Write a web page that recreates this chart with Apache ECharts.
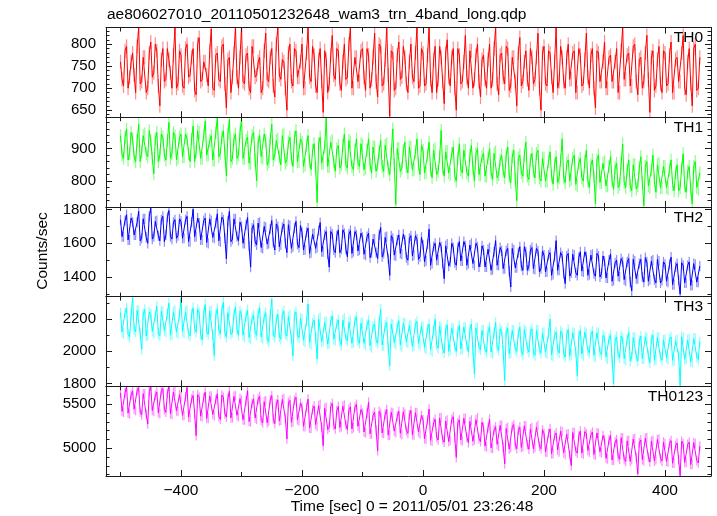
<!DOCTYPE html>
<html><head><meta charset="utf-8">
<script src="https://cdn.jsdelivr.net/npm/echarts@6/dist/echarts.min.js"></script>
<style>html,body{margin:0;padding:0;background:#fff}#c{width:717px;height:516px}</style>
</head><body><div id="c"></div>
<script>
// ---- data: count rate; "A" samples at t = -500 + 5k s,
//      "B" samples half-way between them (t = -497.5 + 5k s) ----
const sampleStart = -500;
const sampleStep = 5;

const th0A = [
 760,705,795,725,780,690,838,715,770,700,805,735,785,660,790,720,765,700,838,710,
 775,700,800,730,790,685,815,720,760,705,835,695,780,715,800,655,770,725,838,700,
 838,710,780,690,795,730,770,700,825,715,790,680,838,720,760,650,800,705,785,725,
 800,700,838,715,775,690,790,645,765,710,820,720,785,695,800,725,838,700,770,715,
 790,695,775,720,825,680,795,710,838,636,780,700,805,725,770,690,800,715,838,705,
 780,710,838,690,795,720,770,665,810,705,790,650,775,715,820,700,785,720,800,680,
 775,700,800,720,838,685,780,710,790,705,770,660,815,715,785,695,770,720,825,650,
 795,705,780,690,838,715,770,700,800,720,785,690,775,710,825,700,790,655,780,715,
 805,700,775,715,790,690,838,720,780,705,800,685,770,715,820,645,785,705,795,690,
 780,710,805,690,770,715,820,685,790,660,800,700];
const th0B = [
 720,785,700,760,730,795,710,770,690,780,725,800,705,765,715,790,735,775,700,785,
 705,790,725,770,695,800,715,760,730,785,700,775,720,795,710,765,690,780,725,770,
 715,775,700,795,725,760,690,785,720,770,705,800,730,765,700,780,715,790,725,760,
 700,780,725,795,705,765,715,785,690,775,730,790,710,760,720,800,700,770,715,785,
 725,790,700,770,715,800,705,765,730,785,695,775,720,795,710,760,725,780,700,790,
 705,775,720,765,690,795,715,780,725,770,700,790,710,760,725,785,700,775,715,765,
 720,765,700,790,710,775,725,795,695,770,715,780,705,760,720,790,710,770,700,780,
 710,785,725,760,700,795,715,770,720,780,690,790,705,765,725,775,700,785,715,760,
 700,770,715,760,690,785,720,775,705,795,715,765,700,780,720,770,695,765,710,785,
 705,775,690,765,715,780,700,760,710,790,695,770];

const th1A = [
 940,870,960,885,930,860,975,890,945,875,925,822,950,880,935,865,981,885,940,870,
 945,875,930,860,970,890,950,870,985,880,940,865,995,885,955,816,990,870,945,880,
 992,870,935,855,950,800,940,870,925,860,975,880,930,850,945,865,935,845,955,860,
 920,850,940,835,915,734,935,855,995,845,925,830,910,850,945,840,920,835,930,845,
 910,840,930,825,905,850,925,830,915,820,961,727,900,840,920,825,905,835,930,820,
 895,825,920,810,900,830,956,815,890,820,905,800,915,825,895,815,910,800,900,820,
 885,815,900,805,890,820,880,810,905,795,895,739,880,815,920,805,885,810,895,800,
 870,800,890,790,875,810,930,795,865,805,880,785,870,800,895,780,865,729,880,795,
 860,785,875,775,855,790,914,780,865,770,850,785,875,724,860,780,880,765,855,780,
 845,775,865,770,850,780,884,765,845,729,860,775];
const th1B = [
 880,935,865,950,875,925,860,940,885,955,870,930,860,945,880,925,870,950,865,935,
 875,945,885,930,860,955,870,940,880,925,865,950,875,935,885,945,860,930,870,950,
 870,925,855,940,865,920,875,945,850,930,865,925,875,940,855,920,870,935,860,930,
 845,910,860,895,840,915,855,905,845,920,860,900,840,910,850,925,845,895,855,915,
 835,895,850,905,830,890,845,910,840,885,850,900,830,895,845,905,835,890,850,910,
 825,880,835,895,820,875,840,890,825,885,815,870,835,895,825,880,840,885,820,875,
 815,870,825,885,810,865,830,880,815,875,805,870,825,880,815,865,830,885,810,870,
 800,860,815,850,795,865,810,855,800,870,790,855,810,860,800,850,815,865,795,855,
 785,845,800,840,780,855,795,835,785,850,775,840,795,845,785,835,800,850,780,845,
 780,835,790,825,770,840,785,830,775,845,780,825];

const th2A = [
 1740,1640,1770,1620,1725,1650,1790,1630,1745,1600,1808,1640,1735,1615,1760,1650,1795,1625,1740,1645,
 1730,1630,1760,1610,1802,1640,1720,1620,1750,1600,1735,1630,1775,1610,1740,1508,1790,1625,1745,1615,
 1700,1600,1753,1459,1710,1590,1725,1570,1695,1600,1735,1560,1700,1590,1715,1545,1705,1580,1730,1575,
 1665,1560,1690,1545,1660,1575,1723,1550,1670,1459,1655,1545,1680,1565,1660,1520,1675,1550,1650,1560,
 1635,1530,1660,1545,1625,1510,1694,1540,1640,1410,1630,1525,1650,1535,1620,1500,1645,1530,1625,1520,
 1590,1495,1684,1480,1600,1500,1580,1390,1595,1490,1575,1470,1610,1495,1585,1480,1600,1470,1580,1490,
 1560,1460,1575,1445,1616,1470,1555,1450,1570,1341,1560,1455,1580,1440,1550,1465,1575,1445,1555,1450,
 1530,1430,1545,1415,1616,1440,1525,1361,1540,1425,1530,1410,1550,1430,1520,1415,1535,1405,1525,1420,
 1495,1395,1537,1380,1500,1400,1490,1375,1510,1318,1495,1390,1505,1370,1490,1385,1500,1365,1495,1380,
 1475,1370,1518,1355,1480,1298,1470,1365,1490,1350,1475,1370];
const th2B = [
 1640,1735,1620,1750,1650,1725,1615,1745,1635,1760,1625,1730,1645,1740,1610,1755,1640,1725,1630,1745,
 1630,1740,1610,1725,1640,1750,1620,1735,1605,1745,1635,1720,1615,1755,1630,1730,1610,1745,1640,1725,
 1600,1710,1585,1690,1610,1720,1575,1700,1595,1685,1605,1715,1580,1695,1600,1710,1570,1690,1595,1705,
 1560,1665,1540,1655,1570,1675,1550,1650,1535,1670,1560,1645,1545,1680,1565,1655,1540,1670,1555,1660,
 1535,1640,1515,1625,1545,1650,1520,1635,1510,1645,1530,1620,1540,1655,1515,1630,1525,1645,1505,1635,
 1490,1595,1470,1580,1500,1605,1480,1585,1465,1600,1485,1575,1495,1610,1470,1590,1480,1600,1460,1585,
 1460,1565,1440,1550,1470,1575,1450,1555,1435,1570,1455,1545,1465,1580,1440,1560,1450,1570,1430,1555,
 1430,1530,1410,1520,1440,1545,1420,1525,1405,1535,1425,1515,1435,1550,1410,1530,1420,1540,1400,1525,
 1395,1500,1375,1485,1405,1510,1385,1490,1370,1505,1390,1480,1400,1515,1375,1495,1385,1505,1365,1490,
 1375,1475,1355,1460,1380,1485,1365,1470,1350,1480,1370,1465];

const th3A = [
 2240,2110,2270,2090,2334,2120,2250,2014,2260,2100,2230,2115,2280,2095,2245,2120,2300,2105,2255,2110,
 2330,2115,2255,2095,2270,2120,2240,2070,2290,2105,2250,1973,2265,2110,2305,2090,2250,2120,2275,2100,
 2230,2090,2255,2075,2225,2100,2270,2080,2240,2060,2324,2090,2230,2075,2250,2095,2225,1973,2245,2085,
 2200,2060,2293,2045,2195,1953,2210,2065,2185,2050,2220,2070,2195,2040,2205,2065,2190,2055,2215,2050,
 2175,2040,2195,2025,2170,2050,2262,2035,2180,1911,2165,2045,2190,2030,2175,2050,2160,2035,2185,2040,
 2150,2015,2170,2000,2200,2020,2145,1990,2165,2010,2140,2000,2160,2015,2150,1995,2170,1860,2145,2010,
 2130,1995,2150,1985,2179,2005,2125,1819,2145,1990,2130,2000,2150,1980,2125,1995,2140,1975,2130,1990,
 2115,1985,2200,1970,2120,1990,2110,1965,2135,1980,2115,1849,2130,1975,2110,1990,2125,1965,2115,1980,
 2085,1955,2100,1798,2090,1960,2080,1945,2118,1965,2085,1940,2095,1955,2080,1930,2100,1950,2085,1945,
 2075,1950,2090,1940,2070,1788,2085,1955,2076,1935,2080,1950];
const th3B = [
 2120,2240,2105,2225,2135,2255,2110,2230,2095,2245,2125,2220,2110,2250,2130,2235,2100,2245,2120,2225,
 2125,2245,2110,2230,2140,2260,2105,2235,2120,2250,2100,2225,2130,2255,2115,2240,2105,2230,2135,2250,
 2100,2220,2085,2205,2115,2235,2090,2215,2075,2225,2105,2200,2090,2230,2110,2215,2080,2225,2100,2205,
 2070,2185,2055,2175,2085,2200,2060,2180,2045,2190,2075,2170,2060,2195,2080,2180,2050,2190,2070,2175,
 2050,2165,2035,2155,2065,2180,2040,2160,2025,2170,2055,2150,2040,2175,2060,2160,2030,2170,2050,2155,
 2025,2140,2010,2130,2040,2155,2015,2135,2000,2145,2030,2125,2015,2150,2035,2135,2005,2145,2025,2130,
 2010,2125,1995,2115,2025,2140,2000,2120,1985,2130,2015,2110,2000,2135,2020,2120,1990,2130,2010,2115,
 1995,2110,1980,2100,2010,2125,1985,2105,1970,2115,2000,2095,1985,2120,2005,2105,1975,2115,1995,2100,
 1965,2080,1950,2070,1980,2095,1955,2075,1940,2085,1970,2065,1955,2090,1975,2075,1945,2085,1965,2070,
 1960,2075,1945,2065,1975,2090,1950,2070,1935,2080,1965,2060];

const th0123A = [
 5630,5410,5705,5390,5650,5430,5690,5380,5620,5276,5705,5420,5640,5395,5680,5410,5705,5385,5645,5420,
 5590,5370,5693,5350,5600,5144,5580,5360,5640,5340,5595,5370,5620,5330,5580,5355,5650,5345,5600,5360,
 5545,5320,5655,5300,5560,5330,5590,5290,5540,5310,5600,5280,5550,5320,5565,5106,5545,5300,5580,5310,
 5470,5245,5560,5225,5480,5250,5500,5030,5465,5240,5510,5220,5475,5245,5490,5215,5470,5235,5500,5230,
 5400,5175,5523,5160,5410,4973,5395,5170,5440,5150,5400,5180,5420,5155,5395,5170,5430,5150,5405,5165,
 5325,5100,5447,5080,5330,5095,5350,5070,5320,5090,5360,4897,5325,5085,5340,5065,5320,5095,5345,5075,
 5240,5015,5333,5000,5245,5025,5260,4822,5235,5010,5270,4995,5240,5020,5255,4990,5235,5010,5260,4995,
 5170,4955,5220,4940,5175,4960,5190,4930,5165,4803,5180,4945,5195,4935,5165,4955,5185,4925,5170,4950,
 5095,4880,5144,4865,5100,4875,5115,4850,5090,4870,5110,4708,5095,4860,5120,4845,5090,4870,5105,4855,
 5055,4845,5087,4830,5060,4689,5050,4840,5070,4820,5055,4835];
const th0123B = [
 5420,5630,5400,5610,5445,5660,5410,5620,5385,5645,5430,5600,5405,5655,5440,5625,5395,5640,5425,5610,
 5375,5585,5355,5560,5395,5610,5365,5575,5340,5595,5385,5550,5360,5605,5390,5570,5345,5590,5375,5565,
 5325,5540,5305,5515,5345,5560,5315,5530,5290,5550,5335,5505,5310,5555,5340,5520,5295,5545,5325,5515,
 5250,5465,5230,5440,5270,5485,5240,5455,5215,5475,5260,5430,5235,5480,5265,5445,5220,5470,5250,5440,
 5185,5400,5165,5375,5205,5420,5175,5390,5150,5410,5195,5365,5170,5415,5200,5380,5155,5405,5185,5375,
 5110,5320,5090,5295,5130,5345,5100,5310,5075,5330,5120,5290,5095,5340,5125,5305,5080,5325,5110,5295,
 5025,5235,5005,5210,5045,5260,5015,5225,4990,5245,5035,5205,5010,5255,5040,5220,4995,5240,5025,5210,
 4960,5170,4940,5145,4980,5195,4950,5160,4925,5180,4970,5140,4945,5190,4975,5155,4930,5175,4960,5145,
 4885,5095,4865,5070,4905,5120,4875,5085,4850,5105,4895,5065,4870,5115,4900,5080,4855,5100,4885,5070,
 4850,5055,4830,5030,4870,5080,4840,5045,4815,5065,4860,5025];

// 1-sigma error bar half-length of each band (counts/sec)
const panelErrors = [16, 20, 30, 33, 55];

const panelNames = ['TH0','TH1','TH2','TH3','TH0123'];
const panelA = [th0A, th1A, th2A, th3A, th0123A];
const panelB = [th0B, th1B, th2B, th3B, th0123B];
const panelColors = ['#ff0000','#00ff00','#0000ff','#00ffff','#ff00ff'];
const panelLightColors = ['#ff8c8c','#8cff8c','#8c8cff','#8cffff','#ff8cff'];
const yMin = [634, 720, 1284, 1783, 4685];
const yMax = [838, 997, 1816, 2340, 5705];
const yMajorTicks = [[650,700,750,800],[800,900],[1400,1600,1800],[1800,2000,2200],[5000,5500]];
const yMinorTicks = [
 [640,660,670,680,690,710,720,730,740,760,770,780,790,810,820,830],
 [720,740,760,780,820,840,860,880,920,940,960,980],
 [1300,1500,1700],
 [1900,2100,2300],
 [4700,4800,4900,5100,5200,5300,5400,5600,5700]];
const xMajorTicks = [-400,-200,0,200,400];
const xMinorTicks = [-500,-300,-100,100,300];
const xMin = -524, xMax = 476;
const titleText = 'ae806027010_20110501232648_wam3_trn_4band_long.qdp';
const xTitle = 'Time [sec] 0 = 2011/05/01 23:26:48';
const yTitle = 'Counts/sec';

// ---- layout ----
const FONT = '"Liberation Sans", Arial, Helvetica, sans-serif';
const gridLeft = 106, gridWidth = 605;
const panelTops = [27.5, 117.2, 206.9, 296.6, 386.3];
const panelH = 89.7;
const frameColor = '#1a1a1a';

const grids = [], xAxes = [], yAxes = [], series = [], graphics = [];
const minusFmt = v => String(v).replace('-', '\u2212');
const plainFmt = v => String(v);
let badLen = [];

panelNames.forEach((name, p) => {
  grids.push({left: gridLeft, width: gridWidth, top: panelTops[p], height: panelH});
  const xBase = {type: 'value', gridIndex: p, min: xMin, max: xMax, splitLine: {show: false}, z: 5};
  const isLast = p === panelNames.length - 1;
  xAxes.push(Object.assign({}, xBase, {
    position: 'bottom',
    axisLine: {show: true, onZero: false, lineStyle: {color: frameColor, width: 1}},
    axisTick: {show: true, inside: true, length: 6, customValues: xMajorTicks, lineStyle: {color: frameColor}},
    axisLabel: {show: isLast, customValues: xMajorTicks, formatter: minusFmt, color: '#000',
      fontFamily: FONT, fontSize: 15.5, margin: 7}
  }));
  xAxes.push(Object.assign({}, xBase, {
    position: 'top',
    axisLine: {show: true, onZero: false, lineStyle: {color: frameColor, width: 1}},
    axisTick: {show: true, inside: true, length: 6, customValues: xMajorTicks, lineStyle: {color: frameColor}},
    axisLabel: {show: false}
  }));
  xAxes.push(Object.assign({}, xBase, {
    position: 'bottom',
    axisLine: {show: false, onZero: false},
    axisTick: {show: true, inside: true, length: 4, customValues: xMinorTicks, lineStyle: {color: frameColor}},
    axisLabel: {show: false}
  }));
  xAxes.push(Object.assign({}, xBase, {
    position: 'top',
    axisLine: {show: false, onZero: false},
    axisTick: {show: true, inside: true, length: 4, customValues: xMinorTicks, lineStyle: {color: frameColor}},
    axisLabel: {show: false}
  }));

  const yBase = {type: 'value', gridIndex: p, min: yMin[p], max: yMax[p], splitLine: {show: false}, z: 5};
  yAxes.push(Object.assign({}, yBase, {
    position: 'left',
    axisLine: {show: true, onZero: false, lineStyle: {color: frameColor, width: 1}},
    axisTick: {show: true, inside: true, length: 6, customValues: yMajorTicks[p], lineStyle: {color: frameColor}},
    axisLabel: {show: true, customValues: yMajorTicks[p], formatter: plainFmt, color: '#000',
      fontFamily: FONT, fontSize: 15, margin: 10}
  }));
  yAxes.push(Object.assign({}, yBase, {
    position: 'right',
    axisLine: {show: true, onZero: false, lineStyle: {color: frameColor, width: 1}},
    axisTick: {show: true, inside: true, length: 6, customValues: yMajorTicks[p], lineStyle: {color: frameColor}},
    axisLabel: {show: false}
  }));
  yAxes.push(Object.assign({}, yBase, {
    position: 'left',
    axisLine: {show: false, onZero: false},
    axisTick: {show: true, inside: true, length: 3.5, customValues: yMinorTicks[p], lineStyle: {color: frameColor}},
    axisLabel: {show: false}
  }));
  yAxes.push(Object.assign({}, yBase, {
    position: 'right',
    axisLine: {show: false, onZero: false},
    axisTick: {show: true, inside: true, length: 3.5, customValues: yMinorTicks[p], lineStyle: {color: frameColor}},
    axisLabel: {show: false}
  }));

  const A = panelA[p], B = panelB[p];
  if (A.length !== 192 || B.length !== 192) badLen.push(name + ':' + A.length + '/' + B.length);
  const data = [];
  A.forEach((v, i) => {
    data.push([sampleStart + i * sampleStep, v]);
    if (i < B.length) data.push([sampleStart + i * sampleStep + sampleStep / 2, B[i]]);
  });
  const err = panelErrors[p];
  const light = panelLightColors[p];
  // pale error bars (value +- 1 sigma) at every sample
  series.push({
    type: 'custom', name: name + ' err', xAxisIndex: 4 * p, yAxisIndex: 4 * p,
    data: data.map(d => [d[0], d[1], err]), clip: true, silent: true, z: 1,
    encode: {x: 0, y: 1},
    renderItem: function (params, api) {
      const x = api.value(0), y = api.value(1), e = api.value(2);
      const lo = api.coord([x, y - e]), hi = api.coord([x, y + e]);
      return {type: 'line', shape: {x1: lo[0], y1: lo[1], x2: hi[0], y2: hi[1]},
              style: {stroke: light, lineWidth: 1.2}};
    }
  });
  series.push({
    type: 'line', name: name, xAxisIndex: 4 * p, yAxisIndex: 4 * p, data: data,
    showSymbol: false, symbol: 'none', clip: true, animation: false, z: 2,
    lineStyle: {color: panelColors[p], width: 1}, itemStyle: {color: panelColors[p]}
  });

  graphics.push({type: 'text', x: 703, y: panelTops[p] + 10.5, z: 10,
    style: {text: name, fill: '#000', font: '15.5px ' + FONT, textAlign: 'right', textVerticalAlign: 'middle'}});
});

graphics.push({type: 'text', x: 107, y: 15,
  style: {text: titleText, fill: '#000', font: '15.5px ' + FONT, textAlign: 'left', textVerticalAlign: 'middle'}});
graphics.push({type: 'text', x: 412, y: 507,
  style: {text: xTitle, fill: '#000', font: '15.5px ' + FONT, textAlign: 'center', textVerticalAlign: 'middle'}});
graphics.push({type: 'text', x: 43, y: 251, rotation: Math.PI / 2,
  style: {text: yTitle, fill: '#000', font: '15.5px ' + FONT, textAlign: 'center', textVerticalAlign: 'middle'}});
if (badLen.length) graphics.push({type: 'text', x: 600, y: 10, z: 20,
  style: {text: 'LEN ' + badLen.join(' '), fill: '#f00', font: '10px sans-serif'}});

const chart = echarts.init(document.getElementById('c'), null, {renderer: 'canvas'});
chart.setOption({
  backgroundColor: '#ffffff',
  animation: false,
  grid: grids,
  xAxis: xAxes,
  yAxis: yAxes,
  series: series,
  graphic: graphics
});
</script>
</body></html>
